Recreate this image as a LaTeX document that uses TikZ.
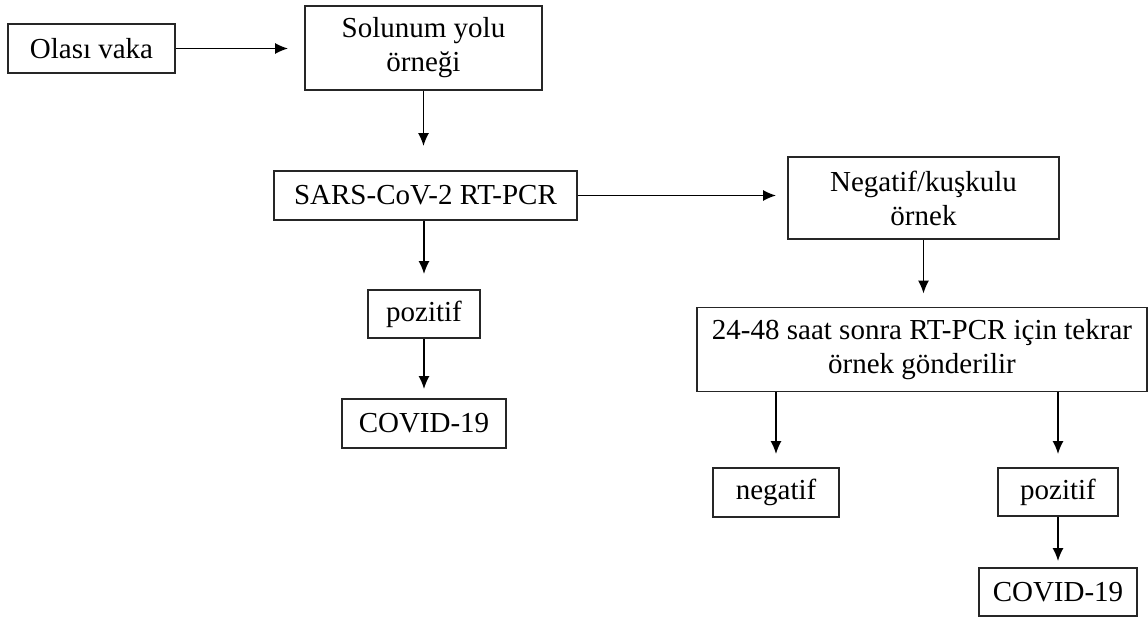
\documentclass[tikz,border=0pt]{standalone}
\usepackage{fontspec}
\setmainfont{Liberation Serif}
\usetikzlibrary{arrows.meta}

\begin{document}
\begin{tikzpicture}[x=1pt,y=-1pt,
  box/.style={draw=black!85,line width=1.8pt,inner sep=0pt,align=center,
    font=\fontsize{29}{34}\selectfont},
  arr/.style={line width=1.6pt,-{Latex[length=13pt,width=11pt]}}]
\useasboundingbox (0,0) rectangle (1148,617);
\node[box,minimum width=167pt,minimum height=49pt] (olasi) at (91.5,48.5) {Olası vaka};
\node[box,minimum width=237pt,minimum height=84pt] (solunum) at (423.5,48) {Solunum yolu\\örneği};
\node[box,minimum width=303pt,minimum height=49pt] (sars) at (425.5,195.5) {SARS-CoV-2 RT-PCR};
\node[box,minimum width=271pt,minimum height=82pt] (negatif) at (923.5,198) {Negatif/kuşkulu\\örnek};
\node[box,minimum width=112pt,minimum height=48pt] (pozL) at (424,314) {pozitif};
\node[box,minimum width=164pt,minimum height=49pt] (covidL) at (424,423.5) {COVID-19};
\node[box,minimum width=450pt,minimum height=84pt] (tekrar) at (922,349.5) {24-48 saat sonra RT-PCR için tekrar\\örnek gönderilir};
\node[box,minimum width=126pt,minimum height=49pt] (negL) at (776,492.5) {negatif};
\node[box,minimum width=120pt,minimum height=48pt] (pozR) at (1058,492) {pozitif};
\node[box,minimum width=158pt,minimum height=48pt] (covidR) at (1058,592) {COVID-19};
\draw[arr,shorten >=16pt] (olasi.east) -- (olasi.east -| solunum.west);
\draw[arr,shorten >=24pt] (solunum) -- (solunum |- sars.north);
\draw[arr,shorten >=11pt] (sars.east) -- (sars.east -| negatif.west);
\draw[arr,shorten >=13pt] (negatif) -- (negatif |- tekrar.north);
\draw[arr,shorten >=15pt] (pozL |- sars.south) -- (pozL);
\draw[arr,shorten >=9pt] (pozL) -- (covidL);
\draw[arr,shorten >=13pt] (negL |- tekrar.south) -- (negL);
\draw[arr,shorten >=13pt] (pozR |- tekrar.south) -- (pozR);
\draw[arr,shorten >=6pt] (pozR) -- (covidR);
\end{tikzpicture}
\end{document}
